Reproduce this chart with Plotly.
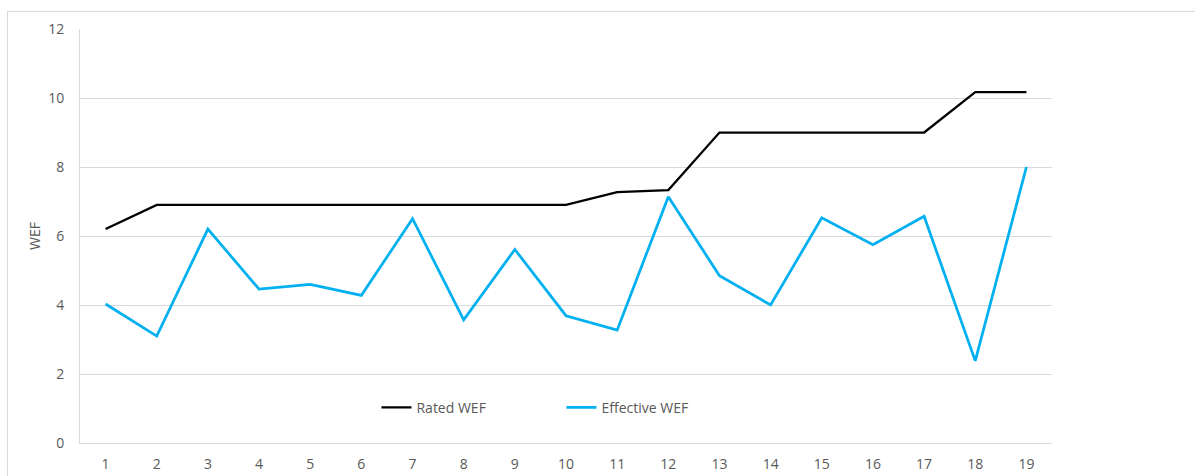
import plotly.graph_objects as go

# Category index along the x axis
units = list(range(1, 20))

# Rated and measured (effective) water efficiency factor per unit
rated_wef = [6.20, 6.90, 6.90, 6.90, 6.90, 6.90, 6.90, 6.90, 6.90, 6.90,
             7.27, 7.33, 9.00, 9.00, 9.00, 9.00, 9.00, 10.17, 10.17]
effective_wef = [4.03, 3.10, 6.20, 4.46, 4.60, 4.28, 6.50, 3.57, 5.61, 3.69,
                 3.27, 7.14, 4.85, 4.00, 6.53, 5.75, 6.57, 2.38, 8.00]

y_ticks = [0, 2, 4, 6, 8, 10, 12]

font_family = "Open Sans, Liberation Sans, sans-serif"
text_grey = "#595959"
grid_grey = "#d9d9d9"

fig = go.Figure()
fig.add_trace(go.Scatter(
    x=units, y=rated_wef, mode="lines", name="Rated WEF",
    line=dict(color="#000000", width=2.25),
))
fig.add_trace(go.Scatter(
    x=units, y=effective_wef, mode="lines", name="Effective WEF",
    line=dict(color="#00b0f0", width=2.75),
))

fig.update_layout(
    width=1195, height=476,
    margin=dict(l=80, r=143, t=29, b=33, autoexpand=False),
    paper_bgcolor="white", plot_bgcolor="white",
    font=dict(family=font_family, size=14, color=text_grey),
    showlegend=True,
    legend=dict(
        orientation="h", x=0.305, y=0.085, xanchor="left", yanchor="middle",
        bgcolor="rgba(0,0,0,0)", itemwidth=30,
        entrywidth=140, entrywidthmode="pixels",
        font=dict(family=font_family, size=14, color=text_grey),
    ),
    xaxis=dict(
        range=[0.5, 19.5], tickmode="array", tickvals=units,
        ticktext=[str(u) for u in units],
        showgrid=False, zeroline=False, automargin=False,
        showline=True, linecolor=grid_grey, linewidth=1,
        ticks="", ticklabelstandoff=8,
    ),
    yaxis=dict(
        range=[0, 12], tickmode="array", tickvals=y_ticks,
        showgrid=True, gridcolor=grid_grey, gridwidth=1,
        zeroline=False, showline=True, linecolor=grid_grey, linewidth=1,
        ticks="", ticklabelstandoff=12, automargin=False,
        title=dict(text="WEF", standoff=4,
                   font=dict(family=font_family, size=14, color=text_grey)),
    ),
    shapes=[dict(
        type="rect", xref="paper", yref="paper",
        x0=-0.0746, x1=1.2, y0=-0.2, y1=1.0427,
        line=dict(color=grid_grey, width=1), layer="below",
    )],
)

fig.write_html("out.html")
